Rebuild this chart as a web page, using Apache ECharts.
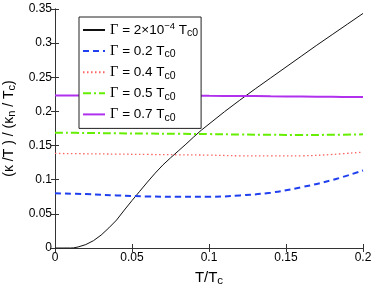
<!DOCTYPE html>
<html><head><meta charset="utf-8">
<script src="https://cdn.jsdelivr.net/npm/echarts@6/dist/echarts.min.js"></script>
<style>html,body{margin:0;padding:0;background:#fff}#c{width:374px;height:287px}</style>
</head><body><div id="c"></div>
<script>
const xTicks = [0, 0.05, 0.1, 0.15, 0.2];
const yTicks = [0, 0.05, 0.1, 0.15, 0.2, 0.25, 0.3, 0.35];
const seriesNames = ['g1', 'g2', 'g4', 'g5', 'g7'];
const blackX = [0, 0.005, 0.01, 0.012, 0.015, 0.02, 0.025, 0.03, 0.035, 0.04, 0.045, 0.05, 0.055, 0.06, 0.065, 0.07, 0.075, 0.08, 0.085, 0.09, 0.095, 0.1, 0.11, 0.12, 0.13, 0.14, 0.15, 0.16, 0.17, 0.18, 0.19, 0.2];
const blackY = [0, 0, 0, 0.0002, 0.0015, 0.005, 0.0108, 0.019, 0.0295, 0.041, 0.0555, 0.0695, 0.083, 0.0965, 0.1095, 0.1215, 0.132, 0.1420, 0.152, 0.1625, 0.1725, 0.1815, 0.1995, 0.2165, 0.233, 0.249, 0.265, 0.281, 0.297, 0.3125, 0.328, 0.3435];
const gridX = [0, 0.02, 0.04, 0.06, 0.08, 0.1, 0.12, 0.14, 0.16, 0.18, 0.2];
const blueY = [0.080, 0.079, 0.077, 0.0755, 0.075, 0.075, 0.077, 0.081, 0.089, 0.0995, 0.1135];
const redY = [0.1385, 0.138, 0.1375, 0.137, 0.1365, 0.136, 0.135, 0.1348, 0.135, 0.137, 0.1405];
const greenY = [0.1688, 0.1685, 0.168, 0.1676, 0.1672, 0.1668, 0.1662, 0.1658, 0.1655, 0.1658, 0.1664];
const purpleY = [0.2232, 0.2232, 0.2232, 0.2231, 0.223, 0.2228, 0.2226, 0.2222, 0.2218, 0.2214, 0.221];
const legendLabels = {
  g1: '{g|Γ} = 2×10{sup|−4} T{sub|c0}',
  g2: '{g|Γ} = 0.2 T{sub|c0}',
  g4: '{g|Γ} = 0.4 T{sub|c0}',
  g5: '{g|Γ} = 0.5 T{sub|c0}',
  g7: '{g|Γ} = 0.7 T{sub|c0}'
};
function pairs(xs, ys){ return xs.map((x,i)=>[x, ys[i]]); }
const F = 'Liberation Sans, Arial, sans-serif';
const chart = echarts.init(document.getElementById('c'));
const axisCommon = {
  min: 0, interval: 0.05,
  axisLine: {show: true, lineStyle: {color: '#333', width: 1}},
  axisTick: {show: true, inside: true, length: 4, lineStyle: {color: '#333'}},
  splitLine: {show: false}
};
function fmt(list){ return v => { const r = Math.round(v*1000)/1000; return list.includes(r) ? String(r) : ''; }; }
chart.setOption({
  animation: false,
  grid: {left: 55, right: 11, top: 9, bottom: 39, containLabel: false, outerBoundsMode: 'none'},
  legend: {
    orient: 'vertical', left: 79, top: 17, width: 107,
    data: seriesNames,
    backgroundColor: '#fff', borderColor: '#222', borderWidth: 1, borderRadius: 0,
    padding: [4, 3, 5, 3], itemGap: 3.1, itemWidth: 22, itemHeight: 14,
    itemStyle: {opacity: 0},
    formatter: n => legendLabels[n],
    textStyle: {
      fontFamily: F, fontSize: 13.5, color: '#000', lineHeight: 18,
      rich: {
        g: {fontFamily: 'Liberation Serif, serif', fontSize: 14.5, lineHeight: 18},
        sub: {fontSize: 10.5, lineHeight: 10, verticalAlign: 'bottom'},
        sup: {fontSize: 9.5, lineHeight: 9, verticalAlign: 'top'}
      }
    }
  },
  xAxis: [
    Object.assign({}, axisCommon, {
      type: 'value', max: 0.2, position: 'bottom',
      axisLabel: {color: '#000', fontFamily: F, fontSize: 12, margin: 4, formatter: fmt(xTicks)},
      name: 'T/T{sub|c}', nameLocation: 'middle', nameGap: 17,
      nameTextStyle: {color: '#000', fontFamily: F, fontSize: 15, lineHeight: 18,
        rich: {sub: {fontSize: 11.5, lineHeight: 11, verticalAlign: 'bottom'}}}
    }),
    Object.assign({}, axisCommon, {type: 'value', max: 0.2, position: 'top', axisLabel: {show: false}})
  ],
  yAxis: [
    Object.assign({}, axisCommon, {
      type: 'value', max: 0.35, position: 'left',
      axisLabel: {color: '#000', fontFamily: F, fontSize: 12, margin: 3, formatter: fmt(yTicks)},
      name: '(κ /T ) / (κ{sub|n} / T{sub|c})', nameLocation: 'middle', nameGap: 33,
      nameTextStyle: {color: '#000', fontFamily: F, fontSize: 14, lineHeight: 18,
        rich: {sub: {fontSize: 11, lineHeight: 11, verticalAlign: 'bottom'}}}
    }),
    Object.assign({}, axisCommon, {type: 'value', max: 0.35, position: 'right', axisLabel: {show: false}})
  ],
  series: [
    {name: 'g1', type: 'line', symbol: 'none', data: pairs(blackX, blackY),
      lineStyle: {color: '#111', width: 1}, itemStyle: {color: '#111'}},
    {name: 'g2', type: 'line', symbol: 'none', smooth: 0.4, data: pairs(gridX, blueY),
      lineStyle: {color: '#2040f0', width: 2, type: [6, 4]}, itemStyle: {color: '#2040f0'}},
    {name: 'g4', type: 'line', symbol: 'none', smooth: 0.4, data: pairs(gridX, redY),
      lineStyle: {color: '#ff6464', width: 1.3, type: [1.5, 2.5]}, itemStyle: {color: '#ff6464'}},
    {name: 'g5', type: 'line', symbol: 'none', smooth: 0.4, data: pairs(gridX, greenY),
      lineStyle: {color: '#66ee00', width: 2, type: [8, 3, 2, 3]}, itemStyle: {color: '#66ee00'}},
    {name: 'g7', type: 'line', symbol: 'none', smooth: 0.4, data: pairs(gridX, purpleY),
      lineStyle: {color: '#b030ee', width: 2}, itemStyle: {color: '#b030ee'}}
  ]
});
</script></body></html>
